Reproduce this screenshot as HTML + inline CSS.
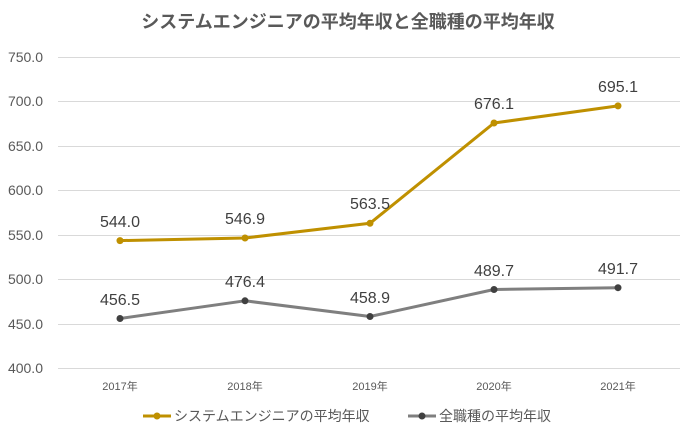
<!DOCTYPE html>
<html><head><meta charset="utf-8"><style>
body{margin:0;background:#fff;}
svg{display:block;font-family:"Liberation Sans","Noto Sans CJK JP",sans-serif;}
</style></head><body>
<svg width="696" height="435" viewBox="0 0 696 435">
<rect width="696" height="435" fill="#fff"/>
<text x="348" y="28" text-anchor="middle" font-size="18" font-weight="bold" fill="#595959">システムエンジニアの平均年収と全職種の平均年収</text>
<g stroke="#d9d9d9" stroke-width="1">
<line x1="58" x2="680" y1="57.5" y2="57.5"/><line x1="58" x2="680" y1="101.5" y2="101.5"/>
<line x1="58" x2="680" y1="146.5" y2="146.5"/><line x1="58" x2="680" y1="190.5" y2="190.5"/>
<line x1="58" x2="680" y1="235.5" y2="235.5"/><line x1="58" x2="680" y1="279.5" y2="279.5"/>
<line x1="58" x2="680" y1="324.5" y2="324.5"/><line x1="58" x2="680" y1="368.5" y2="368.5"/>
</g>
<g font-size="14" fill="#595959" text-anchor="end">
<text x="43" y="62">750.0</text><text x="43" y="106">700.0</text><text x="43" y="151">650.0</text>
<text x="43" y="195">600.0</text><text x="43" y="240">550.0</text><text x="43" y="284">500.0</text>
<text x="43" y="329">450.0</text><text x="43" y="373">400.0</text>
</g>
<g font-size="11" fill="#595959" text-anchor="middle">
<text x="120" y="390">2017年</text><text x="245" y="390">2018年</text><text x="370" y="390">2019年</text>
<text x="494" y="390">2020年</text><text x="618" y="390">2021年</text>
</g>
<polyline points="120,240.6 245,238 370,223.3 494,123 618,105.9" fill="none" stroke="#BF9000" stroke-width="3" stroke-linejoin="round"/>
<g fill="#BF9000"><circle cx="120" cy="240.6" r="3.5"/><circle cx="245" cy="238" r="3.5"/><circle cx="370" cy="223.3" r="3.5"/><circle cx="494" cy="123" r="3.5"/><circle cx="618" cy="105.9" r="3.5"/></g>
<polyline points="120,318.5 245,300.8 370,316.5 494,289.5 618,287.7" fill="none" stroke="#7F7F7F" stroke-width="3" stroke-linejoin="round"/>
<g fill="#404040"><circle cx="120" cy="318.5" r="3.5"/><circle cx="245" cy="300.8" r="3.5"/><circle cx="370" cy="316.5" r="3.5"/><circle cx="494" cy="289.5" r="3.5"/><circle cx="618" cy="287.7" r="3.5"/></g>
<g font-size="16" fill="#404040" text-anchor="middle">
<text x="120" y="227">544.0</text><text x="245" y="224">546.9</text><text x="370" y="209">563.5</text>
<text x="494" y="109">676.1</text><text x="618" y="92">695.1</text>
<text x="120" y="305">456.5</text><text x="245" y="287">476.4</text><text x="370" y="303">458.9</text>
<text x="494" y="276">489.7</text><text x="618" y="274">491.7</text>
</g>
<line x1="143" x2="171" y1="416" y2="416" stroke="#BF9000" stroke-width="3"/><circle cx="157" cy="416" r="3.5" fill="#BF9000"/>
<text x="174" y="421" font-size="14" fill="#595959">システムエンジニアの平均年収</text>
<line x1="408" x2="436" y1="416" y2="416" stroke="#7F7F7F" stroke-width="3"/><circle cx="422" cy="416" r="3.5" fill="#404040"/>
<text x="439" y="421" font-size="14" fill="#595959">全職種の平均年収</text>
</svg>
</body></html>
